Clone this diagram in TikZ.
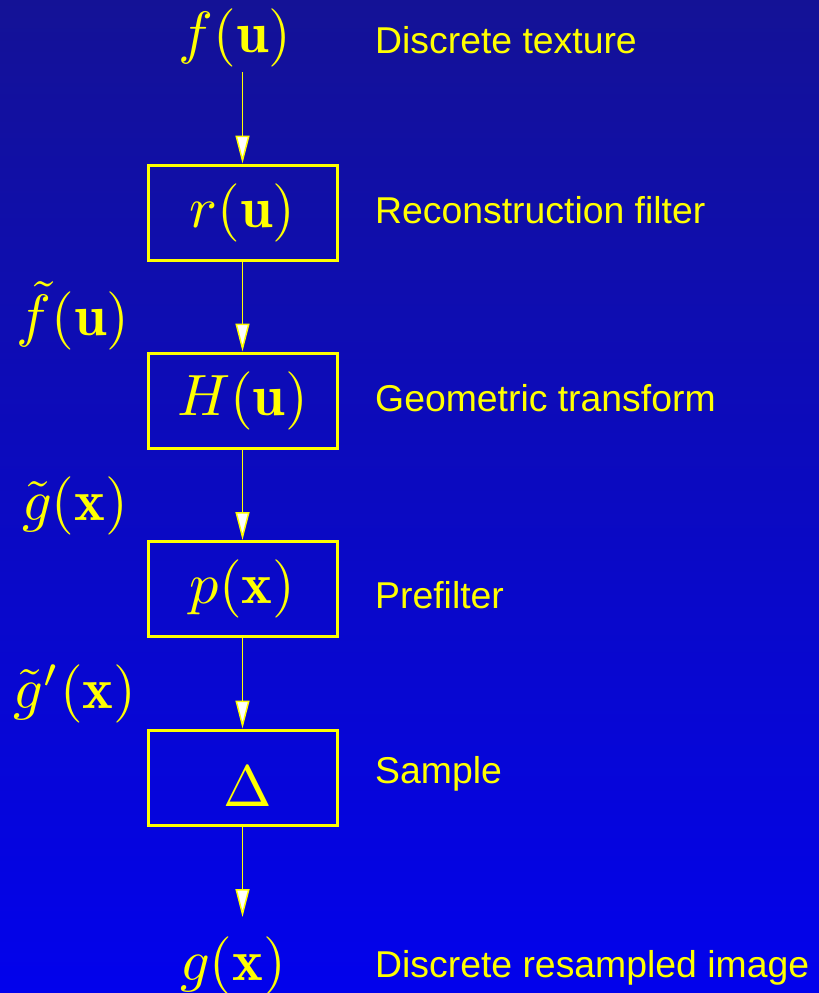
\documentclass[tikz,border=0pt]{standalone}
\usepackage{fontspec}
\setsansfont{Liberation Sans}
\usetikzlibrary{arrows.meta}
\definecolor{bgtop}{RGB}{20,18,150}
\definecolor{bgbot}{RGB}{2,2,236}
\definecolor{ylw}{RGB}{255,255,0}
\newcommand{\bigmath}[1]{\scalebox{5.85}{$#1$}}
\begin{document}
\begin{tikzpicture}[x=1bp,y=-1bp,
  mathlbl/.style={text=ylw,inner sep=0pt},
  boxnode/.style={draw=ylw,line width=3bp,minimum width=189bp,minimum height=95bp,inner sep=0pt,text=ylw},
  desc/.style={text=ylw,anchor=west,inner sep=0pt,font=\fontsize{37.5}{42}\selectfont\sffamily},
  flow/.style={draw=ylw,line width=1.5bp,-{Triangle[width=14bp,length=28bp,fill=white]}}]
\shade[top color=bgtop,bottom color=bgbot] (0,0) rectangle (819,993);
\useasboundingbox (0,0) rectangle (819,993);
% main column
\node[mathlbl] (f) at (235,38) {\bigmath{f(\mathbf{u})}};
\node[boxnode] (r) at (242.5,212.5) {\bigmath{r(\mathbf{u})}};
\node[boxnode] (H) at (242.5,400.5) {\bigmath{H(\mathbf{u})}};
\node[boxnode] (p) at (242.5,589) {\bigmath{p(\mathbf{x})}};
\node[boxnode] (D) at (242.5,777.5) {};
\node[mathlbl] (Dl) at (248,787) {\bigmath{\Delta}};
\node[mathlbl] (g) at (233,966) {\bigmath{g(\mathbf{x})}};
% left labels
\node[mathlbl] (ft) at (73,316) {\bigmath{\tilde{f}(\mathbf{u})}};
\node[mathlbl] (gt) at (75,506) {\bigmath{\tilde{g}(\mathbf{x})}};
\node[mathlbl] (gtp) at (75,694) {\bigmath{\tilde{g}'(\mathbf{x})}};
% right labels
\node[desc] (d1) at (375,40) {Discrete texture};
\node[desc] (d2) at (375,210) {Reconstruction filter};
\node[desc] (d3) at (375,398) {Geometric transform};
\node[desc] (d4) at (375,595) {Prefilter};
\node[desc] (d5) at (375,774) {Sample};
\node[desc] (d6) at (375,968) {Discrete resampled image};
% connectors
\coordinate (fs) at (242.5,72);
\coordinate (ge) at (242.5,917);
\draw[flow] (fs) -- (r.north);
\draw[flow] (r.south) -- (H.north);
\draw[flow] (H.south) -- (p.north);
\draw[flow] (p.south) -- (D.north);
\draw[flow] (D.south) -- (ge);
\end{tikzpicture}
\end{document}
